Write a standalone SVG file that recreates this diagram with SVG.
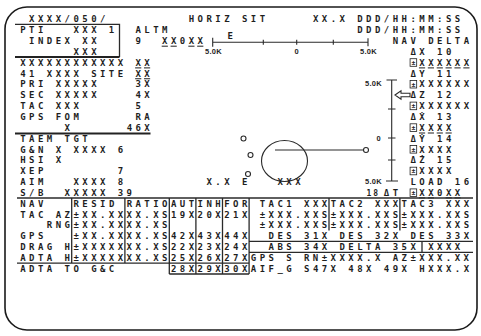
<svg xmlns="http://www.w3.org/2000/svg" width="481" height="336" viewBox="0 0 481 336" xml:space="preserve">
<style>
text{font-family:"DejaVu Sans Mono","Liberation Mono",monospace;font-size:9px;font-weight:bold;letter-spacing:3.45px;fill:#1f1f1f;white-space:pre}
text.s{font-family:"Liberation Sans",Arial,sans-serif;font-size:7.5px;letter-spacing:0.3px}
.l{stroke:#2a2a2a;stroke-width:1.3;fill:none}
.t{stroke:#222;stroke-width:2;fill:none}
.u{stroke:#1f1f1f;stroke-width:1;stroke-dasharray:6.2 2.67;fill:none}
.c{stroke:#2a2a2a;stroke-width:1.1;fill:none}
</style>
<defs>
<g id="pm"><rect x="-0.4" y="-7" width="6.6" height="7.6" fill="none" stroke="#1f1f1f" stroke-width="0.8"/><text x="2.9" y="-0.8" style="font-size:6.5px;letter-spacing:0" text-anchor="middle">±</text></g>
</defs>
<rect id="frame" x="5" y="7" width="472" height="323" rx="22" fill="none" stroke="#1a1a1a" stroke-width="1.6"/>

<g id="header">
<text x="29.07" y="22.3">XXXX/050/</text>
<text x="188.73" y="22.3">HORIZ SIT</text>
<text x="312.91" y="22.3">XX.X DDD/HH:MM:SS</text>
<text x="135.51" y="33.15">ALTM</text>
<text x="357.26" y="33.15">DDD/HH:MM:SS</text>
<text x="135.51" y="44">9  XX0XX</text>
<path class="u" d="M161.7,46.2h17.74M188.3,46.2h17.74"/>
</g>

<g id="left-panel">
<path class="l" d="M15,24.4H119.5V57"/>
<path class="t" d="M15,57H119.5"/>
<text x="20.2" y="33.15">PTI   XXX 1</text>
<text x="29.07" y="44">INDEX XX</text>
<text x="73.42" y="54.85">XXX</text>
<text x="20.2" y="65.7">XXXXXXXXXXXX XX</text>
<path class="u" d="M135.1,67.9h17.74"/>
<text x="20.2" y="76.55">41 XXXX SITE XX</text>
<path class="u" d="M135.1,78.75h17.74"/>
<text x="20.2" y="87.4">PRI XXXXX    3X</text>
<text x="20.2" y="98.25">SEC XXXXX    4X</text>
<text x="20.2" y="109.1">TAC XXX      5</text>
<text x="20.2" y="119.95">GPS FOM      RA</text>
<text x="64.55" y="130.8">X</text>
<text x="126.64" y="130.8">46X</text>
<path class="t" d="M15,133.4H150.5"/>
<text x="20.2" y="141.65">TAEM TGT</text>
<text x="20.2" y="152.5">G&amp;N X XXXX 6</text>
<text x="20.2" y="163.35">HSI X</text>
<text x="20.2" y="174.2">XEP        7</text>
<text x="20.2" y="185.05">AIM   XXXX 8</text>
<text x="20.2" y="195.9">S/B  XXXXX 39</text>
</g>

<g id="horiz-scale">
<path class="c" d="M212.7,42.3H368M212.7,37.8V46.8M368,38.3V46.3M263.3,39.8V44.8M296.7,39.8V44.8M333.3,39.8V44.8"/>
<text x="227.5" y="39">E</text>
<text class="s" x="213.5" y="54.3" text-anchor="middle">5.0K</text>
<text class="s" x="296.7" y="54.3" text-anchor="middle">0</text>
<text class="s" x="368.5" y="54.3" text-anchor="middle">5.0K</text>
</g>

<g id="vert-scale">
<path class="c" d="M391.7,80V181M386.5,80H397M386,181H398M388,109H395.5M388,138H395.5M388,160H395.5"/>
<path class="c" d="M395,95L401,90.8V93.2H410V96.8H401V99.2Z"/>
<text class="s" x="382" y="85.5" text-anchor="end">5.0K</text>
<text class="s" x="381" y="140.7" text-anchor="end">0</text>
<text class="s" x="382" y="184" text-anchor="end">5.0K</text>
</g>

<g id="plan-view">
<ellipse class="c" cx="284.5" cy="161" rx="23" ry="20.5"/>
<path class="c" d="M275,150H363.5"/>
<circle class="c" cx="366" cy="150" r="2.5"/>
<circle class="c" cx="243.5" cy="138.5" r="2.5"/>
<circle class="c" cx="250.5" cy="155" r="2.5"/>
<circle class="c" cx="248" cy="174" r="2.5"/>
<text x="206.47" y="185.05">X.X E</text>
<text x="277.43" y="185.05">XXX</text>
</g>

<g id="nav-delta">
<text x="392.74" y="44">NAV DELTA</text>
<text x="410.48" y="54.85">ΔX 10</text>
<use href="#pm" x="410.48" y="65.7"/>
<text x="419.35" y="65.7">XXXXXX</text>
<path class="u" d="M418.95,67.9h53.2"/>
<text x="410.48" y="76.55">ΔY 11</text>
<use href="#pm" x="410.48" y="87.4"/>
<text x="419.35" y="87.4">XXXXXX</text>
<text x="410.48" y="98.25">ΔZ 12</text>
<use href="#pm" x="410.48" y="109.1"/>
<text x="419.35" y="109.1">XXXXXX</text>
<text x="410.48" y="119.95">ΔẊ 13</text>
<use href="#pm" x="410.48" y="130.8"/>
<text x="419.35" y="130.8">XXXX</text>
<path class="u" d="M418.95,133h35.48"/>
<text x="410.48" y="141.65">ΔẎ 14</text>
<use href="#pm" x="410.48" y="152.5"/>
<text x="419.35" y="152.5">XXXX</text>
<text x="410.48" y="163.35">ΔŻ 15</text>
<use href="#pm" x="410.48" y="174.2"/>
<text x="419.35" y="174.2">XXXX</text>
<text x="410.48" y="185.05">LOAD 16</text>
<text x="366.5" y="195.6" style="font-size:8px;letter-spacing:2px">18</text>
<text x="383.87" y="195.9">ΔT</text>
<use href="#pm" x="410.48" y="195.9"/>
<text x="419.35" y="195.9">XX0XX</text>
<path class="u" d="M418.95,197.9h17.74M445.6,197.9h17.74"/>
</g>

<g id="table">
<path class="l" d="M17,198H473" style="stroke-width:1.7"/>
<path class="l" d="M71.7,198V263.1M124.9,198V263.1M169.3,198V274M195.9,198V274M222.5,198V274M249.1,198V274M329,198V230.6M399.9,198V230.6M17,263.1H249.1M169.3,274H249.1M249.1,241.4H473M249.1,252.3H473M422,241.4V252.3"/>
<text x="20.2" y="206.75">NAV</text>
<text x="73.42" y="206.75">RESID</text>
<text x="126.64" y="206.75">RATIO</text>
<text x="170.99" y="206.75">AUTINHFOR</text>
<text x="259.69" y="206.75">TAC1 XXX</text>
<text x="330.65" y="206.75">TAC2 XXX</text>
<text x="401.61" y="206.75">TAC3 XXX</text>
<text x="20.2" y="217.6">TAC AZ±XX.XXXX.XS19X20X21X</text>
<text x="259.69" y="217.6">±XXX.XXS±XXX.XXS±XXX.XXS</text>
<text x="20.2" y="228.45">   RNG±XX.XXXX.XS</text>
<text x="259.69" y="228.45">±XXX.XXS±XXX.XXS±XXX.XXS</text>
<text x="20.2" y="239.3">GPS   ±XX.XXXX.XS42X43X44X</text>
<text x="268.56" y="239.3">DES 31X DES 32X DES 33X</text>
<text x="20.2" y="250.15">DRAG H±XXXXXXX.XS22X23X24X</text>
<text x="268.56" y="250.15">ABS 34X DELTA 35X</text>
<text x="428.22" y="250.15">XXXX</text>
<text x="20.2" y="261">ADTA H±XXXXXXX.XS25X26X27XGPS S RN±XXXX.X AZ±XXX.XX</text>
<text x="20.2" y="271.85">ADTA TO G&amp;C</text>
<text x="170.99" y="271.85">28X29X30XAIF_G S47X 48X 49X HXXX.X</text>
</g>
</svg>
